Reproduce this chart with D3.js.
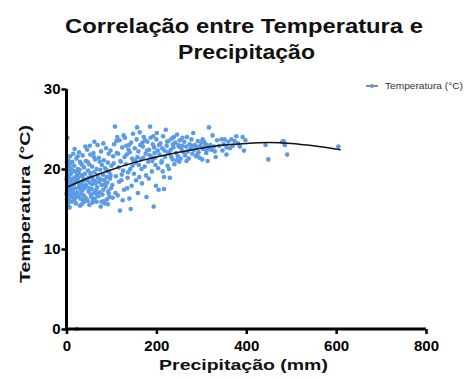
<!DOCTYPE html>
<html>
<head>
<meta charset="utf-8">
<script src="https://cdn.jsdelivr.net/npm/d3@7"></script>
<style>
  body { margin: 0; background: #fff; }
  svg { display: block; font-family: "Liberation Sans", Arial, sans-serif; }
</style>
</head>
<body>
<div id="chart"></div>
<script>
// precipitação (mm), temperatura (°C)
const points = [
  [1,16.2],[2,17.5],[3,18.4],[1,19.1],[4,19.8],[2,20.3],[5,16.8],[3,15.6],[6,17.9],[0,18.7],[4,21.1],[7,20.6],[2,23.9],[8,18.2],[9,16.5],[10,19.4],[11,17.2],[12,15.9],[13,20.9],[14,18.8],[6,16.0],[8,21.6],[10,17.7],[12,19.9],[15,16.4],[3,17.0],[5,18.9],[7,15.2],[9,20.1],[11,18.5],[13,16.9],[15,21.9],[1,20.8],[4,17.4],[6,19.3],[14,17.5],[0,16.9],[2,18.0],
  [16,18.1],[17,20.4],[18,16.2],[19,17.6],[20,19.0],[21,15.7],[22,21.3],[23,18.6],[24,17.1],[25,20.0],[26,16.6],[27,19.5],[28,22.1],[29,17.9],[30,15.4],[31,18.3],[32,20.7],[33,16.9],[34,19.2],[35,17.3],[36,21.7],[37,16.1],[38,18.8],[39,20.2],[40,17.6],[17,17.0],[19,19.7],[21,18.4],[23,16.5],[25,21.6],[27,17.7],[29,19.9],[31,16.3],[33,18.1],[35,20.5],[37,18.5],[39,15.9],[18,22.5],[24,19.3],[30,20.9],[36,17.8],[26,18.9],[32,17.4],[38,16.7],[20,16.8],[28,18.0],[34,15.6],
  [41,19.4],[42,16.4],[43,21.0],[44,17.9],[45,18.6],[46,22.4],[47,16.0],[48,19.8],[49,17.2],[50,20.6],[51,15.5],[52,18.3],[53,21.8],[54,16.8],[55,19.1],[56,17.5],[57,20.3],[58,15.8],[59,18.7],[60,22.0],[61,17.0],[62,19.6],[63,16.3],[64,21.2],[65,18.2],[66,16.9],[67,20.0],[68,17.7],[69,23.0],[70,18.9],[43,18.0],[45,16.2],[47,20.9],[49,18.9],[51,17.6],[53,19.5],[55,16.5],[57,18.1],[59,16.1],[61,21.5],[63,18.5],[65,17.3],[67,15.9],[69,19.2],[42,22.8],[52,22.9],[62,23.4],
  [71,16.6],[72,21.4],[73,18.4],[74,17.1],[75,19.9],[76,15.3],[77,22.2],[78,18.0],[79,20.5],[80,16.8],[81,19.3],[82,17.4],[83,21.1],[84,18.6],[85,15.7],[86,20.1],[87,17.8],[88,22.6],[89,19.0],[90,16.2],[91,18.3],[92,20.8],[93,17.2],[94,21.9],[95,19.6],[96,16.5],[97,18.8],[98,22.3],[99,17.6],[100,20.4],[74,20.9],[78,15.9],[82,23.2],[86,18.1],[90,19.8],[94,16.9],[98,19.2],[76,18.7],[84,16.0],[92,15.6],
  [102,18.0],[104,21.6],[106,23.1],[108,25.3],[110,19.1],[112,22.0],[114,16.7],[116,20.2],[118,23.6],[119,14.8],[120,21.0],[122,18.6],[124,22.7],[126,19.8],[128,17.4],[130,23.9],[132,20.6],[134,21.8],[136,18.9],[138,22.4],[140,16.3],[142,20.0],[143,15.0],[144,23.3],[146,21.3],[148,24.4],[150,19.4],[105,20.7],[109,17.0],[113,24.0],[117,18.4],[121,20.9],[125,16.1],[129,21.5],[133,22.9],[137,19.6],[141,22.1],[145,17.9],[149,21.0],[103,16.4],[111,23.5],[127,24.2],[139,23.0],[147,20.4],[115,21.9],[123,19.3],[135,17.6],
  [152,22.6],[154,20.8],[156,23.7],[157,25.2],[158,21.5],[159,17.0],[160,22.2],[162,19.0],[164,23.0],[166,21.2],[168,18.2],[170,22.8],[172,24.0],[174,20.3],[176,21.9],[178,16.5],[180,23.4],[182,20.9],[184,22.4],[186,25.3],[188,21.6],[190,19.7],[192,23.1],[194,15.3],[196,22.0],[198,20.5],[200,23.7],[201,24.5],[155,18.6],[163,24.6],[167,20.0],[171,21.4],[175,23.6],[179,22.3],[183,18.8],[187,23.9],[191,21.0],[195,22.7],[199,17.9],[153,21.1],[161,20.5],[169,23.3],[177,19.2],[185,21.7],[193,24.1],[197,21.4],
  [203,22.3],[205,17.4],[207,21.8],[209,23.2],[211,20.8],[213,22.6],[215,24.1],[217,17.5],[217,19.0],[219,21.5],[221,24.9],[223,22.9],[225,20.4],[227,23.5],[229,21.9],[230,18.9],[232,22.4],[234,23.8],[236,21.2],[238,22.7],[240,20.6],[242,23.3],[244,22.0],[246,24.3],[248,21.6],[250,22.8],[252,23.6],[254,21.3],[256,22.5],[258,23.9],[260,22.1],[206,23.0],[212,21.0],[218,22.3],[224,23.4],[228,20.0],[233,21.5],[239,24.0],[245,21.1],[251,20.9],[257,22.9],[204,20.1],[214,19.7],[226,22.1],[237,23.1],[249,23.0],
  [262,23.4],[264,21.7],[266,22.8],[268,24.0],[270,22.2],[272,21.3],[274,23.1],[276,22.6],[278,23.7],[280,21.9],[282,24.5],[284,22.4],[286,23.0],[288,21.6],[290,22.7],[292,23.5],[294,22.1],[296,21.4],[298,22.9],[300,23.3],[302,21.2],[304,22.5],[306,23.4],[308,22.8],[310,23.1],[312,22.3],[314,21.0],[316,22.7],[317,25.2],[320,23.0],[322,22.4],[325,24.2],[328,22.8],[330,22.2],[332,21.5],[267,21.0],[279,22.9],[291,21.8],[303,23.7],[311,22.0],
  [335,23.6],[340,22.9],[345,23.7],[347,22.3],[350,23.1],[352,23.7],[356,21.8],[356,22.7],[360,23.4],[364,22.6],[367,23.7],[370,22.9],[374,23.5],[378,24.1],[382,23.2],[386,22.8],[392,24.0],[395,22.3],[398,23.6],
  [443,23.0],[449,21.2],[480,23.4],[483,23.5],[485,23.2],[486,23.0],[491,21.8],[605,22.8],[23,0]
];

// curva de ajuste
const fitX = [0, 50, 100, 150, 200, 250, 300, 350, 400, 450, 500, 550, 610];
const fitY = [17.7, 18.9, 19.9, 20.8, 21.5, 22.1, 22.6, 23.0, 23.2, 23.3, 23.2, 22.9, 22.4];

const xTicks = [0, 200, 400, 600, 800];
const yTicks = [0, 10, 20, 30];

const width = 465, height = 379;
const dotColor = '#5b9be6';

const svg = d3.select('#chart').append('svg')
  .attr('width', width)
  .attr('height', height);

const x = d3.scaleLinear().domain([0, 800]).range([66.5, 426]);
const y = d3.scaleLinear().domain([0, 30]).range([329, 89]);

// texto centrado e esticado na horizontal até à largura do original
function wideText(cx, cy, rot, size, targetW, str) {
  const g = svg.append('g');
  const t = g.append('text')
    .attr('text-anchor', 'middle')
    .style('font-size', size + 'px')
    .style('font-weight', 'bold')
    .attr('fill', '#111')
    .text(str);
  const sx = targetW / t.node().getComputedTextLength();
  g.attr('transform', `translate(${cx},${cy}) rotate(${rot}) scale(${sx},1)`);
  return t;
}

// title
wideText(244, 33, 0, 20, 358, 'Correlação entre Temperatura e');
wideText(246.5, 59, 0, 20, 137, 'Precipitação');

// points
svg.append('g')
  .selectAll('circle')
  .data(points)
  .join('circle')
  .attr('cx', d => x(d[0]))
  .attr('cy', d => y(d[1]))
  .attr('r', 2.3)
  .attr('fill', dotColor);

// fit curve
const line = d3.line()
  .x((d, i) => x(fitX[i]))
  .y(d => y(d))
  .curve(d3.curveMonotoneX);

svg.append('path')
  .datum(fitY)
  .attr('d', line)
  .attr('fill', 'none')
  .attr('stroke', '#111')
  .attr('stroke-width', 1.5);

// axes
const xAxis = svg.append('g')
  .attr('transform', `translate(0,${y(0)})`)
  .call(d3.axisBottom(x).tickValues(xTicks).tickSize(5).tickPadding(6));
const yAxis = svg.append('g')
  .attr('transform', `translate(${x(0)},0)`)
  .call(d3.axisLeft(y).tickValues(yTicks).tickSize(5).tickPadding(1));

[xAxis, yAxis].forEach(g => {
  g.select('.domain').attr('stroke', '#000').attr('stroke-width', 3);
  g.selectAll('.tick line').attr('stroke', '#000').attr('stroke-width', 2.5);
  g.selectAll('.tick text')
    .attr('fill', '#000')
    .style('font-size', '15px')
    .style('font-weight', 'bold')
    .style('font-family', '"Liberation Sans", Arial, sans-serif');
});
xAxis.select('.domain').attr('d', `M${x(0)},0H${x(800)}`);
yAxis.select('.domain').attr('d', `M0,${y(30)}V${y(0)}`);

// axis titles
wideText(243.5, 370, 0, 15.5, 169, 'Precipitação (mm)');
wideText(29.5, 204, -90, 15.5, 158, 'Temperatura (°C)');

// legend
const legend = svg.append('g').attr('transform', 'translate(366,86)');
legend.append('line')
  .attr('x1', 0).attr('x2', 12)
  .attr('stroke', '#111').attr('stroke-width', 1);
legend.append('circle')
  .attr('cx', 6).attr('r', 2)
  .attr('fill', dotColor);
legend.append('text')
  .attr('x', 19).attr('y', 3.3)
  .style('font-size', '9.5px')
  .attr('fill', '#333')
  .attr('textLength', 78)
  .attr('lengthAdjust', 'spacingAndGlyphs')
  .text('Temperatura (°C)');
</script>
</body>
</html>
